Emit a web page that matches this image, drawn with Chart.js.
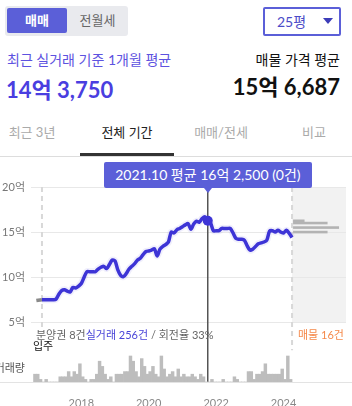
<!DOCTYPE html>
<html>
<head>
<meta charset="UTF-8">
<title>실거래가 차트</title>
<script src="https://cdn.jsdelivr.net/npm/chart.js@4.4.0/dist/chart.umd.min.js"></script>
<style>
	body {margin:0; width:352px; height:406px; position:relative; overflow:hidden; background:#fff;
		font-family: Lato, "Noto Sans CJK KR", sans-serif;}
	.abs {position:absolute; white-space:nowrap;}
	.seg {left:5px; top:6px; width:123px; height:30px; background:#e9eaee; border-radius:3px;}
	.seg .on {position:absolute; left:2px; top:2px; width:60px; height:25px; background:#5b5fd8; border-radius:2px;
		color:#fff; font-weight:bold; font-size:13px; line-height:25px; text-align:center;}
	.seg .off {position:absolute; left:65px; top:2px; width:55px; height:25px; line-height:25px; text-align:center; color:#666; font-size:13px;}
	.dd {left:263px; top:7px; width:74px; height:25px; border:2px solid #5b5fd8; border-radius:2px;}
	.dd span {position:absolute; left:12px; top:0; line-height:25px; font-size:14px; color:#4b4bc8;}
	.dd i {position:absolute; left:58px; top:9px; border-left:5px solid transparent; border-right:5px solid transparent; border-top:6px solid #3c3cb8;}
	.tab {top:124px; width:94px; text-align:center; font-size:13px; line-height:16px; color:#aaa;}
	.tab.cur {color:#222;}
	#tip {top:162px; height:26px; line-height:26px; padding:0 11px; background:#5b5fd8; color:#fff; font-size:14px; border-radius:2px;}
	#tip:after {content:''; position:absolute; left:50%; margin-left:-4px; top:26px; border-left:4px solid transparent; border-right:4px solid transparent; border-top:5px solid #5b5fd8;}
	.note {font-size:11px; line-height:14px; color:#666;}
</style>
</head>
<body>
	<div class="abs seg"><div class="on">매매</div><div class="off">전월세</div></div>
	<div class="abs dd"><span>25평</span><i></i></div>

	<div class="abs" style="left:7px; top:51px; font-size:14px; line-height:17px; color:#5d52e0;">최근 실거래 기준 1개월 평균</div>
	<div class="abs" style="left:6px; top:77px; font-size:22px; line-height:26px; font-weight:bold; color:#4a3ee0;">14억 3,750</div>
	<div class="abs" style="right:12px; top:51px; font-size:14px; line-height:17px; color:#111;">매물 가격 평균</div>
	<div class="abs" style="right:12px; top:74px; font-size:22px; line-height:26px; font-weight:bold; color:#111;">15억 6,687</div>

	<div class="abs tab" style="left:-15px;">최근 3년</div>
	<div class="abs tab cur" style="left:80px;">전체 기간</div>
	<div class="abs tab" style="left:174px;">매매/전세</div>
	<div class="abs tab" style="left:267px;">비교</div>
	<div class="abs" style="left:0; top:156px; width:352px; height:1px; background:#ddd;"></div>
	<div class="abs" style="left:80px; top:153px; width:94px; height:3px; background:#333;"></div>

	<canvas id="priceChart" class="abs" style="left:0; top:160px;" width="352" height="246"></canvas>

	<div id="tip" class="abs"></div>
	<div class="abs note" style="left:36px; top:328px;">분양권 8건<span style="color:#4a45d8;">실거래 256건</span> / 회전율 33%</div>
	<div class="abs note" style="left:33px; top:339px; color:#111;">입주</div>
	<div class="abs note" style="left:298px; top:328px; color:#f5894a;">매물 16건</div>
	<div class="abs note" style="right:327px; top:361px; color:#555;">거래량</div>

<script>
	// 월별 평균 실거래가 (억), 2016.11 입주부터
	const priceStart = '2016.11';
	const prices = [
		7.5, 7.5, 7.5, 7.5, 7.5, 7.55, 8.1, 8.5, 8.6, 8.45,
		8.35, 8.85, 8.8, 9.0, 9.3, 10.0, 10.6, 10.6, 10.6, 10.6,
		10.9, 11.1, 11.2, 10.95, 11.4, 11.9, 11.8, 10.8, 10.2, 10.05,
		10.4, 10.9, 11.2, 11.5, 11.9, 12.1, 12.5, 12.85, 12.9, 13.0,
		13.15, 12.35, 13.1, 13.4, 13.6, 13.9, 15.0, 14.9, 15.25, 15.4,
		15.6, 15.8, 15.95, 15.3, 15.9, 16.2, 16.1, 16.5, 16.7, 16.25,
		16.0, 15.15, 15.15, 15.15, 15.4, 15.4, 15.4, 15.4, 14.9, 14.3,
		14.2, 14.2, 14.1, 13.5, 13.0, 13.1, 13.4, 13.7, 13.8, 13.9,
		14.1, 15.1, 15.15, 15.0, 15.2, 15.0, 14.9, 15.2, 14.85, 14.4
	];
	// 분양권 구간
	const presaleMonths = ['2016.09', '2016.11'];
	const presalePrices = [7.4, 7.5];
	// 월별 거래량 (건), 2016.08부터
	const volumeStart = '2016.08';
	const volumes = [
		3, 3, 1, 0, 1, 0, 0, 0, 0,
		2, 2, 2, 4, 2, 4, 3, 7, 2, 1,
		0, 1, 1, 3, 8, 6, 3, 1, 2, 0,
		3, 3, 3, 4, 4, 10, 8, 4, 2, 9,
		6, 3, 4, 6, 3, 2, 10, 5, 2, 3,
		4, 2, 5, 2, 3, 2, 2, 3, 2, 1,
		3, 2, 0, 0, 1, 0, 0, 0, 1, 0,
		0, 0, 2, 1, 0, 0, 0, 4, 4, 1,
		3, 3, 4, 7, 3, 3, 3, 3, 3, 5,
		1, 10, 1
	];
	// 현재 매물 가격 분포
	const listingPrices = [16.25, 16.0, 15.5, 15.0];
	const listingCounts = [1, 3, 4, 3];

	const priceTicks = [5, 10, 15, 20];
	const yearTicks = ['2018.01', '2020.01', '2022.01', '2024.01'];
	const selectedMonth = '2021.10';
	const moveInMonth = '2016.11';
	const lastMonth = '2024.04';

	function monthNum(s) {
		const p = s.split('.').map(Number);
		return p[0] * 12 + p[1] - 1;
	}
	function monthsFrom(start, n) {
		const out = [];
		const b = monthNum(start);
		for (let i = 0; i < n; i++) {
			const v = b + i;
			out.push(Math.floor(v / 12) + '.' + String(v % 12 + 1).padStart(2, '0'));
		}
		return out;
	}
	function fmtPrice(v) {
		const eok = Math.floor(v);
		const man = Math.round((v - eok) * 10000);
		return eok + '억' + (man ? ' ' + man.toLocaleString('en-US') : '');
	}

	const priceMonths = monthsFrom(priceStart, prices.length);
	const volumeMonths = monthsFrom(volumeStart, volumes.length);
	const base = monthNum(moveInMonth);
	const font = 'Lato, "Noto Sans CJK KR", sans-serif';

	// 배경, 점선, 매물 분포, 선택 월 세로선
	const bgPlugin = {
		id: 'bg',
		beforeDraw(chart) {
			const ctx = chart.ctx, a = chart.chartArea, x = chart.scales.x, y = chart.scales.y;
			const x0 = x.getPixelForValue(monthNum(lastMonth));
			ctx.save();
			ctx.fillStyle = '#f2f2f2';
			ctx.fillRect(x0, a.top, a.right - x0, y.getPixelForValue(priceTicks[0]) - a.top);
			ctx.restore();
		},
		beforeDatasetsDraw(chart) {
			const ctx = chart.ctx, a = chart.chartArea, x = chart.scales.x, y = chart.scales.y;
			const x0 = x.getPixelForValue(monthNum(lastMonth));
			const xm = x.getPixelForValue(monthNum(moveInMonth));
			const y5 = y.getPixelForValue(priceTicks[0]);
			ctx.save();
			// 매물 분포
			ctx.fillStyle = '#b3b3b3';
			listingPrices.forEach(function(p, i) {
				const yy = y.getPixelForValue(p);
				ctx.fillRect(x0 + 1, yy - 1.3, listingCounts[i] * 11.5, 2.6);
			});
			// 거래량 바닥선
			ctx.strokeStyle = '#e3e3e3';
			ctx.lineWidth = 1;
			ctx.beginPath();
			ctx.moveTo(0, a.bottom + 0.5);
			ctx.lineTo(chart.width, a.bottom + 0.5);
			ctx.stroke();
			// 점선
			ctx.strokeStyle = '#d8d8d8';
			ctx.lineWidth = 2;
			ctx.setLineDash([5, 4]);
			ctx.beginPath();
			ctx.moveTo(xm, a.top);
			ctx.lineTo(xm, y5 + 8);
			ctx.moveTo(x0, a.top);
			ctx.lineTo(x0, y5 + 28);
			ctx.stroke();
			ctx.setLineDash([]);
			// 선택 월
			const xs = x.getPixelForValue(monthNum(selectedMonth));
			ctx.strokeStyle = '#555';
			ctx.lineWidth = 1.5;
			ctx.beginPath();
			ctx.moveTo(xs, a.top);
			ctx.lineTo(xs, a.bottom);
			ctx.stroke();
			ctx.restore();
		}
	};

	const priceData = priceMonths.map(function(m, i) { return {x: monthNum(m), y: prices[i]}; });

	const chart = new Chart(document.getElementById('priceChart'), {
		type: 'line',
		data: {
			datasets: [{
				label: '실거래가',
				data: priceData,
				borderColor: '#3d34d6',
				borderWidth: 3.5,
				tension: 0.3,
				pointRadius: function(c) { return priceMonths[c.dataIndex] === selectedMonth ? 5 : 0; },
				pointBackgroundColor: '#3d34d6',
				pointBorderWidth: 0,
				yAxisID: 'y',
				order: 1
			}, {
				label: '범위',
				data: priceData,
				borderColor: 'rgba(120, 110, 230, 0.11)',
				borderWidth: 7,
				tension: 0.3,
				pointRadius: 0,
				yAxisID: 'y',
				order: 2
			}, {
				label: '분양권',
				data: presaleMonths.map(function(m, i) { return {x: monthNum(m), y: presalePrices[i]}; }),
				borderColor: '#8a8a8a',
				borderWidth: 3.5,
				pointRadius: 0,
				yAxisID: 'y',
				order: 1
			}, {
				type: 'bar',
				label: '거래량',
				data: volumeMonths.map(function(m, i) { return {x: monthNum(m) + 0.5, y: volumes[i]}; }),
				backgroundColor: '#bdbdbd',
				borderWidth: 0,
				barPercentage: 1,
				categoryPercentage: 1,
				yAxisID: 'y2',
				order: 3
			}]
		},
		options: {
			responsive: false,
			animation: false,
			events: [],
			layout: {padding: {top: 27, right: 6, left: 0, bottom: 0}},
			plugins: {legend: {display: false}, tooltip: {enabled: false}},
			scales: {
				x: {
					type: 'linear',
					min: base - 3.9,
					max: base + 108.2,
					offset: false,
					grid: {display: false},
					border: {display: false},
					afterBuildTicks: function(s) { s.ticks = yearTicks.map(function(t) { return {value: monthNum(t)}; }); },
					afterFit: function(s) { s.height = 24; },
					ticks: {
						callback: function(v) { return String(Math.floor(v / 12)); },
						color: '#888', font: {size: 11, family: font}, padding: 7, maxRotation: 0, autoSkip: false
					}
				},
				y: {
					min: -1.63,
					max: 20,
					position: 'left',
					afterBuildTicks: function(s) { s.ticks = priceTicks.map(function(v) { return {value: v}; }); },
					afterFit: function(s) { s.width = 31; },
					grid: {color: '#e8e8e8', drawTicks: false},
					border: {display: false},
					ticks: {
						callback: function(v) { return v + '억'; },
						color: '#777', font: {size: 11, family: font}, padding: 6
					}
				},
				y2: {min: 0, max: 75, display: false}
			}
		},
		plugins: [bgPlugin]
	});

	// 선택 월 말풍선
	const si = priceMonths.indexOf(selectedMonth);
	const tip = document.getElementById('tip');
	tip.textContent = selectedMonth + ' 평균 ' + fmtPrice(prices[si]) + ' (' + volumes[volumeMonths.indexOf(selectedMonth)] + '건)';
	const tx = chart.scales.x.getPixelForValue(monthNum(selectedMonth));
	tip.style.left = (tx - tip.offsetWidth / 2) + 'px';
</script>
</body>
</html>
